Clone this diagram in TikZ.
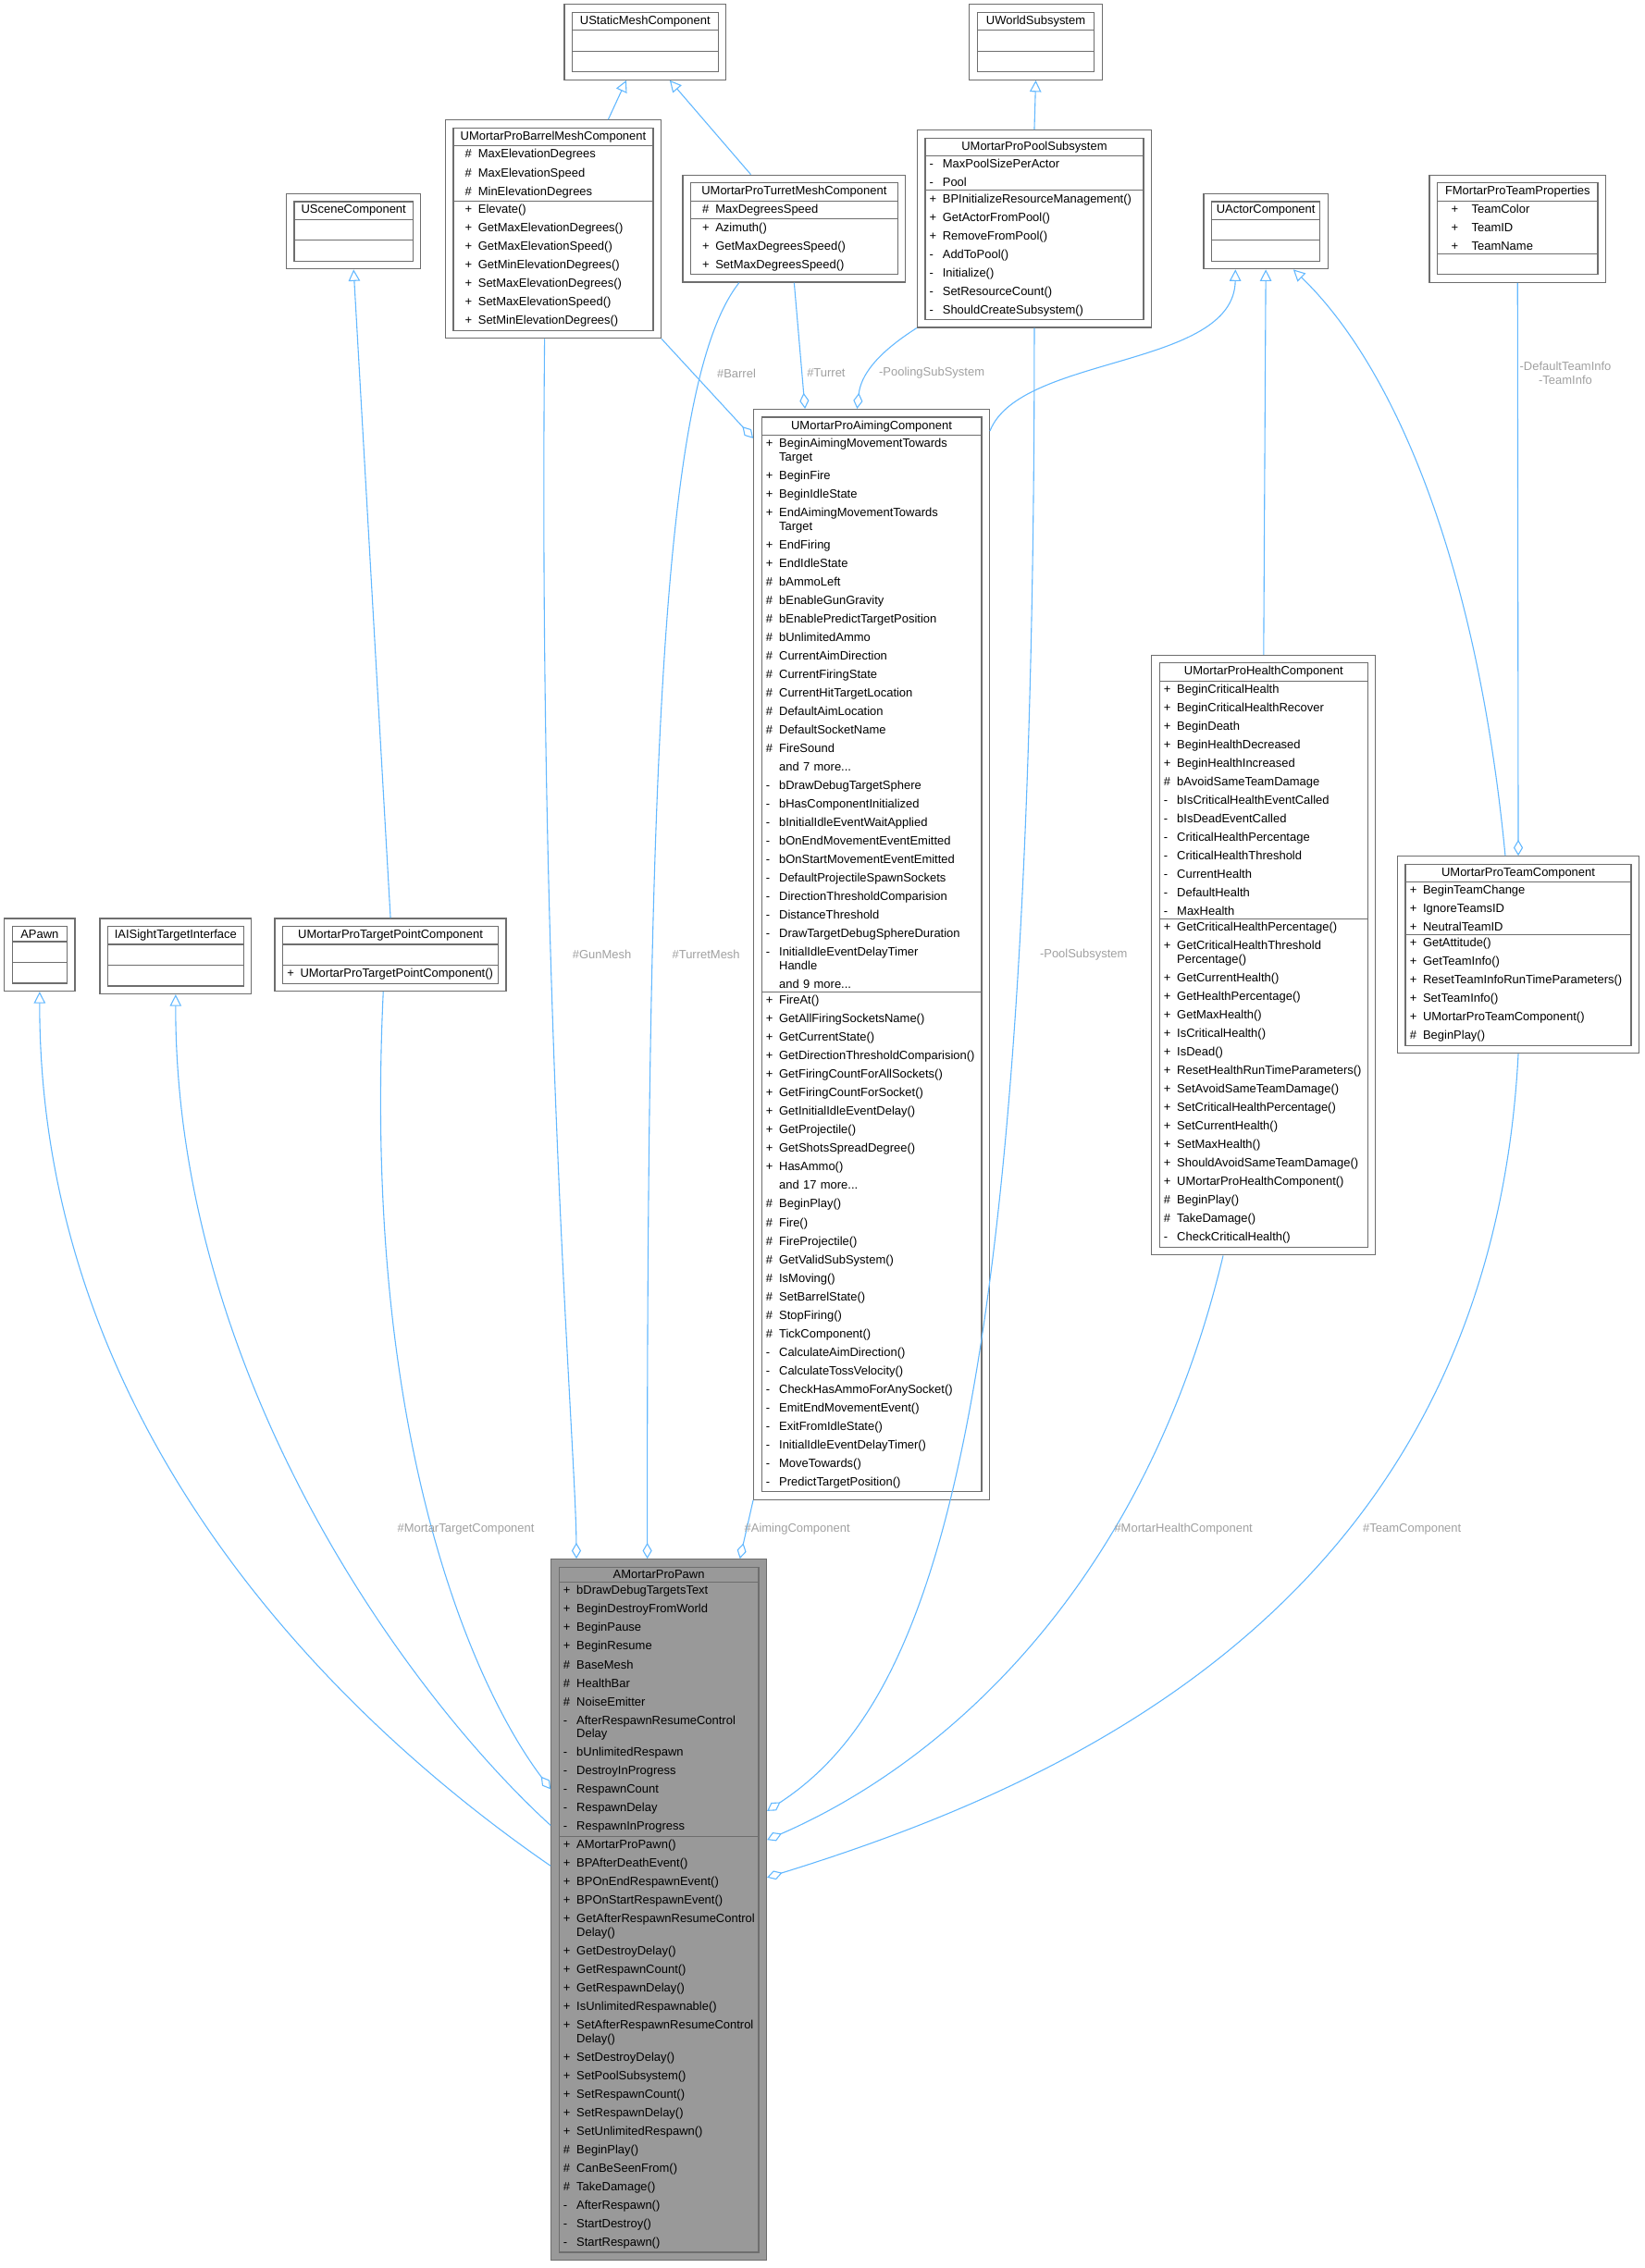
\documentclass[tikz,border=0pt]{standalone}
\usepackage{fontspec}
\setmainfont{Liberation Sans}
\usetikzlibrary{shapes.multipart,fit,arrows.meta,backgrounds}
\definecolor{edgeblue}{RGB}{99,184,255}
\definecolor{framegray}{RGB}{110,110,110}
\definecolor{lblgray}{RGB}{160,160,160}
\definecolor{pawngray}{RGB}{153,153,153}
\newcommand{\plusv}{\makebox[1.1em][l]{+}}
\newcommand{\hashv}{\makebox[1.1em][l]{\#}}
\newcommand{\minusv}{\makebox[1.1em][l]{-}}
\newcommand{\emptyp}{\rule{0pt}{9.6pt}}
\newcommand{\contl}[1]{\\[-3.3pt]\hspace*{1.1em}#1}
\newcommand{\umlcls}[8][fill=white]{%
  \node[cls,text width=#5pt-6pt,anchor=north west,#1] (#2) at (#3,#4)
    {\makebox[\linewidth][c]{#6}\nodepart{two}#7\nodepart{three}#8};
  \begin{pgfonlayer}{background}
  \node[outerbox,fit=(#2),#1] (#2o) {};
  \end{pgfonlayer}}
\tikzset{
  cls/.style={rectangle split,rectangle split parts=3,draw=framegray,line width=0.8pt,
    inner xsep=3pt,inner ysep=2pt,align=left,
    font=\fontsize{8.3}{12.8}\selectfont},
  outerbox/.style={draw=framegray,line width=0.8pt,inner sep=5pt},
  inh/.style={draw=edgeblue,line width=0.7pt,-{Triangle[open,length=8pt,width=8pt]}},
  comp/.style={draw=edgeblue,line width=0.7pt,-{Diamond[open,length=11pt,width=6.5pt]}},
  lbl/.style={text=lblgray,font=\fontsize{8.3}{9.5}\selectfont,align=center,inner sep=1pt}
}
\begin{document}
\begin{tikzpicture}[x=1pt,y=-1pt]
\useasboundingbox (0,0) rectangle (1136.4,1568);

\umlcls{usm}{395}{8}{101}{UStaticMeshComponent}{\emptyp}{\emptyp}
\umlcls{uws}{675}{8}{81}{UWorldSubsystem}{\emptyp}{\emptyp}
\umlcls{barrel}{313}{88}{138}{UMortarProBarrelMeshComponent}
 {\hspace*{0.6em}\hashv MaxElevationDegrees\\\hspace*{0.6em}\hashv MaxElevationSpeed\\\hspace*{0.6em}\hashv MinElevationDegrees}
 {\hspace*{0.6em}\plusv Elevate()\\\hspace*{0.6em}\plusv GetMaxElevationDegrees()\\\hspace*{0.6em}\plusv GetMaxElevationSpeed()\\\hspace*{0.6em}\plusv GetMinElevationDegrees()\\\hspace*{0.6em}\plusv SetMaxElevationDegrees()\\\hspace*{0.6em}\plusv SetMaxElevationSpeed()\\\hspace*{0.6em}\plusv SetMinElevationDegrees()}
\umlcls{turret}{477}{126}{143}{UMortarProTurretMeshComponent}
 {\hspace*{0.6em}\hashv MaxDegreesSpeed}
 {\hspace*{0.6em}\plusv Azimuth()\\\hspace*{0.6em}\plusv GetMaxDegreesSpeed()\\\hspace*{0.6em}\plusv SetMaxDegreesSpeed()}
\umlcls{pool}{639}{95}{151}{UMortarProPoolSubsystem}
 {\minusv MaxPoolSizePerActor\\\minusv Pool}
 {\plusv BPInitializeResourceManagement()\\\plusv GetActorFromPool()\\\plusv RemoveFromPool()\\\minusv AddToPool()\\\minusv Initialize()\\\minusv SetResourceCount()\\\minusv ShouldCreateSubsystem()}
\umlcls{scene}{203}{139}{82}{USceneComponent}{\emptyp}{\emptyp}
\umlcls{actor}{837}{139}{75}{UActorComponent}{\emptyp}{\emptyp}
\umlcls{tprops}{993}{126}{111}{FMortarProTeamProperties}
 {\hspace*{0.8em}\makebox[1.7em][l]{+}TeamColor\\\hspace*{0.8em}\makebox[1.7em][l]{+}TeamID\\\hspace*{0.8em}\makebox[1.7em][l]{+}TeamName}{\emptyp}
\umlcls{aim}{526}{288}{152}{UMortarProAimingComponent}
 {\plusv BeginAimingMovementTowards\contl{Target}\\\plusv BeginFire\\\plusv BeginIdleState\\\plusv EndAimingMovementTowards\contl{Target}\\\plusv EndFiring\\\plusv EndIdleState\\\hashv bAmmoLeft\\\hashv bEnableGunGravity\\\hashv bEnablePredictTargetPosition\\\hashv bUnlimitedAmmo\\\hashv CurrentAimDirection\\\hashv CurrentFiringState\\\hashv CurrentHitTargetLocation\\\hashv DefaultAimLocation\\\hashv DefaultSocketName\\\hashv FireSound\\\hspace*{1.1em}and 7 more...\\\minusv bDrawDebugTargetSphere\\\minusv bHasComponentInitialized\\\minusv bInitialIdleEventWaitApplied\\\minusv bOnEndMovementEventEmitted\\\minusv bOnStartMovementEventEmitted\\\minusv DefaultProjectileSpawnSockets\\\minusv DirectionThresholdComparision\\\minusv DistanceThreshold\\\minusv DrawTargetDebugSphereDuration\\\minusv InitialIdleEventDelayTimer\contl{Handle}\\\hspace*{1.1em}and 9 more...}
 {\plusv FireAt()\\\plusv GetAllFiringSocketsName()\\\plusv GetCurrentState()\\\plusv GetDirectionThresholdComparision()\\\plusv GetFiringCountForAllSockets()\\\plusv GetFiringCountForSocket()\\\plusv GetInitialIdleEventDelay()\\\plusv GetProjectile()\\\plusv GetShotsSpreadDegree()\\\plusv HasAmmo()\\\hspace*{1.1em}and 17 more...\\\hashv BeginPlay()\\\hashv Fire()\\\hashv FireProjectile()\\\hashv GetValidSubSystem()\\\hashv IsMoving()\\\hashv SetBarrelState()\\\hashv StopFiring()\\\hashv TickComponent()\\\minusv CalculateAimDirection()\\\minusv CalculateTossVelocity()\\\minusv CheckHasAmmoForAnySocket()\\\minusv EmitEndMovementEvent()\\\minusv ExitFromIdleState()\\\minusv InitialIdleEventDelayTimer()\\\minusv MoveTowards()\\\minusv PredictTargetPosition()}
\umlcls{health}{801}{458}{144}{UMortarProHealthComponent}
 {\plusv BeginCriticalHealth\\\plusv BeginCriticalHealthRecover\\\plusv BeginDeath\\\plusv BeginHealthDecreased\\\plusv BeginHealthIncreased\\\hashv bAvoidSameTeamDamage\\\minusv bIsCriticalHealthEventCalled\\\minusv bIsDeadEventCalled\\\minusv CriticalHealthPercentage\\\minusv CriticalHealthThreshold\\\minusv CurrentHealth\\\minusv DefaultHealth\\\minusv MaxHealth}
 {\plusv GetCriticalHealthPercentage()\\\plusv GetCriticalHealthThreshold\contl{Percentage()}\\\plusv GetCurrentHealth()\\\plusv GetHealthPercentage()\\\plusv GetMaxHealth()\\\plusv IsCriticalHealth()\\\plusv IsDead()\\\plusv ResetHealthRunTimeParameters()\\\plusv SetAvoidSameTeamDamage()\\\plusv SetCriticalHealthPercentage()\\\plusv SetCurrentHealth()\\\plusv SetMaxHealth()\\\plusv ShouldAvoidSameTeamDamage()\\\plusv UMortarProHealthComponent()\\\hashv BeginPlay()\\\hashv TakeDamage()\\\minusv CheckCriticalHealth()}
\umlcls{team}{971}{597}{156}{UMortarProTeamComponent}
 {\plusv BeginTeamChange\\\plusv IgnoreTeamsID\\\plusv NeutralTeamID}
 {\plusv GetAttitude()\\\plusv GetTeamInfo()\\\plusv ResetTeamInfoRunTimeParameters()\\\plusv SetTeamInfo()\\\plusv UMortarProTeamComponent()\\\hashv BeginPlay()}
\umlcls{apawn}{8}{640}{38}{APawn}{\emptyp}{\emptyp}
\umlcls{iai}{74}{640}{94}{IAISightTargetInterface}{\emptyp}{\emptyp}
\umlcls{tpoint}{195}{640}{149}{UMortarProTargetPointComponent}{\emptyp}{\plusv UMortarProTargetPointComponent()}
\umlcls[fill=pawngray]{pawn}{386}{1083}{138}{AMortarProPawn}
 {\plusv bDrawDebugTargetsText\\\plusv BeginDestroyFromWorld\\\plusv BeginPause\\\plusv BeginResume\\\hashv BaseMesh\\\hashv HealthBar\\\hashv NoiseEmitter\\\minusv AfterRespawnResumeControl\contl{Delay}\\\minusv bUnlimitedRespawn\\\minusv DestroyInProgress\\\minusv RespawnCount\\\minusv RespawnDelay\\\minusv RespawnInProgress}
 {\plusv AMortarProPawn()\\\plusv BPAfterDeathEvent()\\\plusv BPOnEndRespawnEvent()\\\plusv BPOnStartRespawnEvent()\\\plusv GetAfterRespawnResumeControl\contl{Delay()}\\\plusv GetDestroyDelay()\\\plusv GetRespawnCount()\\\plusv GetRespawnDelay()\\\plusv IsUnlimitedRespawnable()\\\plusv SetAfterRespawnResumeControl\contl{Delay()}\\\plusv SetDestroyDelay()\\\plusv SetPoolSubsystem()\\\plusv SetRespawnCount()\\\plusv SetRespawnDelay()\\\plusv SetUnlimitedRespawn()\\\hashv BeginPlay()\\\hashv CanBeSeenFrom()\\\hashv TakeDamage()\\\minusv AfterRespawn()\\\minusv StartDestroy()\\\minusv StartRespawn()}

% anchor coordinates
\coordinate (pawnL1) at (pawno.west |- 0,1237);
\coordinate (pawnL2) at (pawno.west |- 0,1262);
\coordinate (pawnL3) at (pawno.west |- 0,1290);
\coordinate (pawnR1) at (pawno.east |- 0,1252);
\coordinate (pawnR2) at (pawno.east |- 0,1272);
\coordinate (pawnR3) at (pawno.east |- 0,1298);
\coordinate (aimL) at (aimo.west |- 0,303);
\coordinate (aimR) at (aimo.east |- 0,298);

% inheritance
\draw[inh] ([xshift=38]barrelo.north) -- ([xshift=-13]usmo.south);
\draw[inh] ([xshift=-30]turreto.north) -- ([xshift=17]usmo.south);
\draw[inh] (poolo.north) -- (uwso.south);
\draw[inh] (tpointo.north) -- (sceneo.south);
\draw[inh] (aimR) .. controls (705,245) and (853,255) .. ([xshift=-21]actoro.south);
\draw[inh] (healtho.north) -- (actoro.south);
\draw[inh] ([xshift=-9]teamo.north) .. controls (1020,380) and (960,250) .. ([xshift=19]actoro.south);
\draw[inh] (pawnL3) .. controls (250,1200) and (27,1000) .. (apawno.south);
\draw[inh] (pawnL2) .. controls (280,1170) and (121,950) .. (iaio.south);

% composition
\draw[comp] ([xshift=-6]barrelo.south) .. controls (372,700) and (398,1000) .. ([xshift=-57]pawno.north);
\draw[comp] ([xshift=-38]turreto.south) .. controls (460,260) and (447,500) .. ([xshift=-8]pawno.north);
\draw[comp] (aimo.south west) -- ([xshift=56]pawno.north);
\draw[comp] (barrelo.south east) -- (aimL);
\draw[comp] (turreto.south) -- ([xshift=-46]aimo.north);
\draw[comp] (poolo.south west) .. controls (605,245) and (595,260) .. ([xshift=-10]aimo.north);
\draw[comp] (poolo.south) .. controls (715,1000) and (640,1180) .. (pawnR1);
\draw[comp] ([xshift=-28]healtho.south) .. controls (790,1100) and (650,1220) .. (pawnR2);
\draw[comp] (teamo.south) .. controls (1030,1100) and (750,1230) .. (pawnR3);
\draw[comp] (tpropso.south) -- (teamo.north);
\draw[comp] ([xshift=-5]tpointo.south) .. controls (250,1000) and (330,1170) .. (pawnL1);

% labels
\node[lbl] (lgun) at (416,660) {\#GunMesh};
\node[lbl] (lturretmesh) at (488,660) {\#TurretMesh};
\node[lbl] (laim) at (551,1057) {\#AimingComponent};
\node[lbl] (lbarrel) at (509,258) {\#Barrel};
\node[lbl] (lturret) at (571,258) {\#Turret};
\node[lbl] (lpooling) at (644,258) {-PoolingSubSystem};
\node[lbl] (lpool) at (749,660) {-PoolSubsystem};
\node[lbl] (lhealth) at (818,1057) {\#MortarHealthComponent};
\node[lbl] (lteam) at (976,1057) {\#TeamComponent};
\node[lbl] (lteaminfo) at (1082,258) {-DefaultTeamInfo\\-TeamInfo};
\node[lbl] (ltarget) at (322,1057) {\#MortarTargetComponent};
\end{tikzpicture}
\end{document}
